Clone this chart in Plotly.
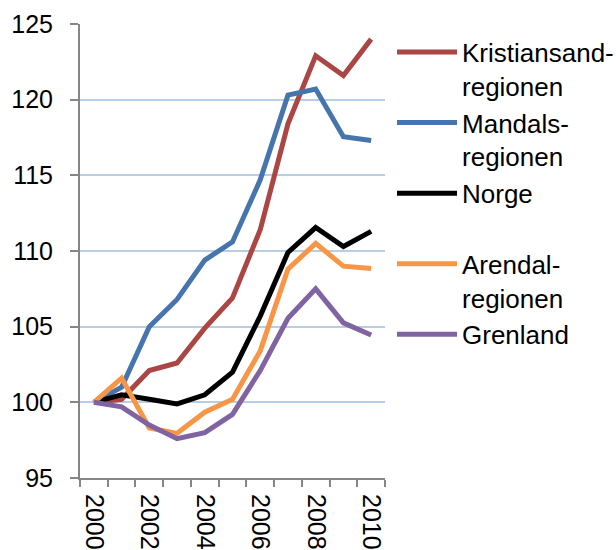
import plotly.graph_objects as go

years = list(range(2000, 2011))
tick_labels = ["2000", "2002", "2004", "2006", "2008", "2010"]

kristiansand = [100, 100.2, 102.1, 102.6, 104.9, 106.9, 111.4, 118.4, 122.9, 121.6, 124.0]
mandal = [100, 101.0, 105.0, 106.8, 109.4, 110.6, 114.7, 120.3, 120.7, 117.55, 117.3]
norge = [100, 100.5, 100.2, 99.9, 100.5, 102.0, 105.7, 109.9, 111.55, 110.3, 111.3]
arendal = [100, 101.6, 98.3, 97.95, 99.35, 100.2, 103.4, 108.8, 110.5, 109.0, 108.85]
grenland = [100, 99.7, 98.5, 97.6, 98.0, 99.2, 102.1, 105.55, 107.5, 105.25, 104.45]

series = [
    ("Kristiansand-<br>regionen", kristiansand, "#AA4643"),
    ("Mandals-<br>regionen", mandal, "#4674AD"),
    ("Norge<br> ", norge, "#000000"),
    ("Arendal-<br>regionen", arendal, "#F79646"),
    ("Grenland", grenland, "#8064A2"),
]

fig = go.Figure()
for i, (name, vals, color) in enumerate(series):
    fig.add_trace(go.Scatter(
        x=years, y=vals, mode="lines", name=name,
        line=dict(color=color, width=5),
        legendgroup=f"g{i}",
    ))

family = "Liberation Sans, Arial, sans-serif"
tick_font = dict(family=family, size=25, color="#000000")
legend_font = dict(family=family, size=26, color="#000000")

fig.update_layout(
    width=616, height=550,
    margin=dict(l=80, r=231, t=24, b=72, autoexpand=False),
    paper_bgcolor="white", plot_bgcolor="white",
    font=tick_font,
    showlegend=True,
    legend=dict(
        x=1.023, y=0.99, xanchor="left", yanchor="top",
        valign="top", tracegroupgap=0, itemwidth=60,
        font=legend_font, bgcolor="rgba(0,0,0,0)",
        traceorder="grouped",
    ),
    xaxis=dict(
        range=[1999.5, 2010.5],
        tickmode="array", tickvals=[2000, 2002, 2004, 2006, 2008, 2010],
        ticktext=tick_labels, tickangle=90,
        ticks="", showgrid=False, zeroline=False,
        showline=True, linecolor="#868686", linewidth=2,
        minor=dict(tick0=1999.5, dtick=1, ticks="outside", ticklen=7,
                   tickcolor="#868686", tickwidth=2, showgrid=False),
        automargin=False, ticklabelstandoff=9,
        tickfont=tick_font,
    ),
    yaxis=dict(
        range=[95, 125], tickvals=[95, 100, 105, 110, 115, 120, 125],
        ticks="outside", ticklen=8, tickcolor="#868686", tickwidth=2,
        showline=True, linecolor="#868686", linewidth=2,
        showgrid=True, gridcolor="#B9CDE5", gridwidth=2,
        zeroline=False, automargin=False, ticklabelstandoff=12,
        tickfont=tick_font,
    ),
)

fig.write_html(
    "out.html",
    config={"displayModeBar": False},
    post_script="document.body.style.margin='0';document.body.style.overflow='hidden';",
)
